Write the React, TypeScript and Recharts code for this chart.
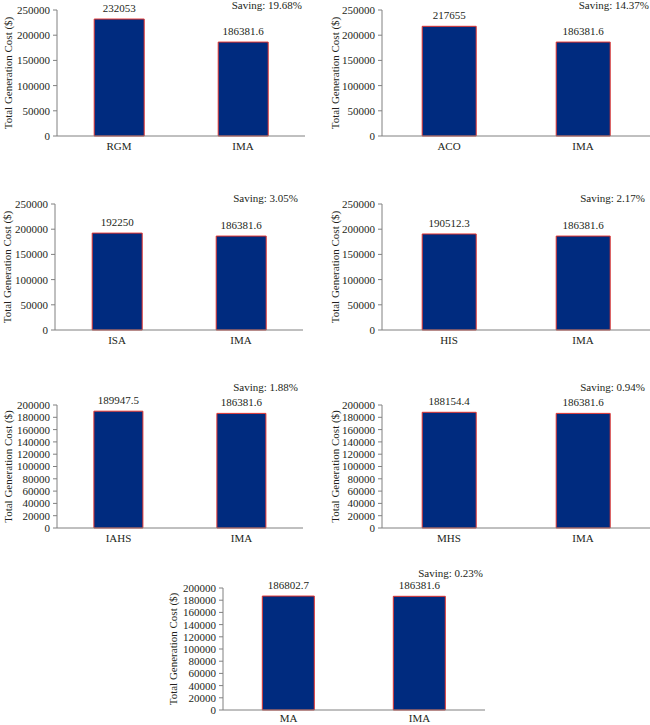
import React from "react";
import { BarChart, Bar, XAxis, YAxis, LabelList, Label } from "recharts";

// one panel per competing method, each against IMA
const methods = ["RGM", "ACO", "ISA", "HIS", "IAHS", "MHS", "MA"];
const methodCosts = [232053, 217655, 192250, 190512.3, 189947.5, 188154.4, 186802.7];
const imaName = "IMA";
const imaCost = 186381.6;
const savings = ["19.68%", "14.37%", "3.05%", "2.17%", "1.88%", "0.94%", "0.23%"];
const ticksBig = [0, 50000, 100000, 150000, 200000, 250000];
const ticksSmall = [0, 20000, 40000, 60000, 80000, 100000, 120000, 140000, 160000, 180000, 200000];

const FONT = "'Liberation Serif', 'Times New Roman', serif";
const TEXT = "#231f20";
const AXIS = "#808080";

// where each panel sits on the page
const layout = [
  { left: 0, top: 0, w: 310, h: 155, yw: 57, mb: 4, ts: 4, lx: 8, sx: 302, sy: 5 },
  { left: 325, top: 0, w: 325, h: 155, yw: 57, mb: 4, ts: 4, lx: 10, sx: 649, sy: 5 },
  { left: 0, top: 194, w: 308, h: 155, yw: 55, mb: 4, ts: 4, lx: 7, sx: 298, sy: 198 },
  { left: 325, top: 194, w: 325, h: 155, yw: 57, mb: 4, ts: 4, lx: 10, sx: 645, sy: 198 },
  { left: 0, top: 395, w: 308, h: 152, yw: 57, mb: 4, ts: 4, lx: 8, sx: 298, sy: 387 },
  { left: 325, top: 395, w: 325, h: 152, yw: 57, mb: 4, ts: 4, lx: 10, sx: 645, sy: 387 },
  { left: 160, top: 578, w: 330, h: 147, yw: 63, mb: 0, ts: 2, lx: 13, sx: 483, sy: 573 },
];

const YTitle = (lx: number) => (props: any) => {
  const vb = props.viewBox || { y: 0, height: 0 };
  const cy = vb.y + vb.height / 2;
  return (
    <text
      x={lx}
      y={cy}
      transform={`rotate(-90, ${lx}, ${cy})`}
      textAnchor="middle"
      dominantBaseline="central"
      fontSize={11}
      fill={TEXT}
      fontFamily={FONT}
    >
      Total Generation Cost ($)
    </text>
  );
};

const Panel = ({ i }: { i: number }) => {
  const p = layout[i];
  const data = [
    { name: methods[i], cost: methodCosts[i] },
    { name: imaName, cost: imaCost },
  ];
  const ticks = i < 4 ? ticksBig : ticksSmall;
  return (
    <div style={{ position: "absolute", left: p.left, top: p.top }}>
      <BarChart
        width={p.w}
        height={p.h}
        data={data}
        margin={{ top: 10, right: p.left + p.w >= 650 ? 0 : 5, bottom: p.mb, left: 0 }}
        barCategoryGap="30%"
      >
        <XAxis
          dataKey="name"
          height={15}
          tickLine={false}
          tickSize={p.ts}
          tickMargin={2}
          axisLine={{ stroke: AXIS }}
          tick={{ fontSize: 11, fill: TEXT, fontFamily: FONT }}
        />
        <YAxis
          width={p.yw}
          domain={[0, ticks[ticks.length - 1]]}
          ticks={ticks}
          interval={0}
          tickSize={4}
          tickMargin={3}
          axisLine={{ stroke: AXIS }}
          tickLine={{ stroke: AXIS }}
          tick={{ fontSize: 11, fill: TEXT, fontFamily: FONT }}
        >
          <Label content={YTitle(p.lx)} />
        </YAxis>
        <Bar dataKey="cost" fill="#002b7f" stroke="#e3342f" strokeWidth={1} isAnimationActive={false}>
          <LabelList
            dataKey="cost"
            position="top"
            offset={7}
            style={{ fontSize: 11, fill: TEXT, fontFamily: FONT }}
          />
        </Bar>
      </BarChart>
    </div>
  );
};

export default function App() {
  return (
    <div
      style={{
        position: "absolute",
        left: 0,
        top: 0,
        width: 650,
        height: 725,
        overflow: "hidden",
        background: "#fff",
        fontFamily: FONT,
      }}
    >
      {methods.map((_, i) => (
        <Panel key={i} i={i} />
      ))}
      {layout.map((p, i) => (
        <div
          key={"s" + i}
          style={{
            position: "absolute",
            right: 650 - p.sx,
            top: p.sy - 7,
            fontSize: 11,
            lineHeight: "14px",
            color: TEXT,
            whiteSpace: "nowrap",
          }}
        >
          Saving: {savings[i]}
        </div>
      ))}
    </div>
  );
}
